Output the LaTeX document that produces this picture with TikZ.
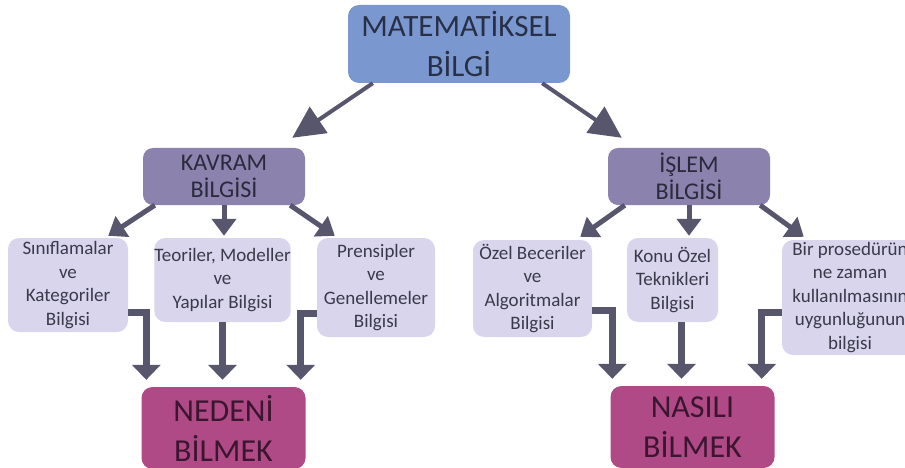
\documentclass[tikz,border=0pt]{standalone}
\usepackage{fontspec}
\setmainfont{Carlito}
\usetikzlibrary{arrows.meta,calc}
\definecolor{cTop}{HTML}{7B97D0}
\definecolor{cMid}{HTML}{8C82AE}
\definecolor{cLight}{HTML}{D8D5EC}
\definecolor{cMag}{HTML}{B04A86}
\definecolor{cArr}{HTML}{58566D}
\definecolor{cTxtTop}{HTML}{283048}
\definecolor{cTxtMid}{HTML}{2A2A3C}
\definecolor{cTxtLight}{HTML}{3A3A4A}
\definecolor{cTxtMag}{HTML}{3B1630}
\tikzset{
  topbox/.style={fill=cTop, rounded corners=11pt, minimum width=222pt, minimum height=78pt, align=center, text=cTxtTop, font=\fontsize{31}{39.5}\selectfont, inner sep=0pt},
  midbox/.style={fill=cMid, rounded corners=10pt, minimum width=162pt, minimum height=57pt, align=center, text=cTxtMid, font=\fontsize{24}{27.5}\selectfont, inner sep=0pt},
  lightbox/.style={fill=cLight, rounded corners=11pt, align=center, text=cTxtLight, font=\fontsize{19}{23.5}\selectfont, inner sep=0pt},
  magbox/.style={fill=cMag, rounded corners=11pt, minimum width=164pt, minimum height=82pt, align=center, text=cTxtMag, font=\fontsize{32}{40}\selectfont, inner sep=0pt},
  bigarr/.style={draw=cArr, line width=4pt, -{Triangle[width=31pt,length=32pt]}},
  smallarr/.style={draw=cArr, line width=5pt, -{Triangle[width=24pt,length=17pt]}},
  elbowarr/.style={draw=cArr, line width=7pt, -{Triangle[width=28pt,length=15pt]}},
}
\begin{document}
\begin{tikzpicture}[x=1pt,y=-1pt]
\useasboundingbox (0,0) rectangle (905,468);
% top
\node[topbox] (mat) at (459,44) {MATEMATİKSEL\\BİLGİ};
% middle
\node[midbox] (kav) at (224,176.5) {KAVRAM\\BİLGİSİ};
\node[midbox] (isl) at (689,176.5) {İŞLEM\\BİLGİSİ};
% left leaves
\node[lightbox, minimum width=120pt, minimum height=94pt] (sin) at (68,285) {Sınıflamalar\\ve\\Kategoriler\\Bilgisi};
\node[lightbox, minimum width=135pt, minimum height=84pt] (teo) at (222.5,280) {Teoriler, Modeller\\ve\\Yapılar Bilgisi};
\node[lightbox, minimum width=118pt, minimum height=99pt] (pre) at (376,287.5) {Prensipler\\ve\\Genellemeler\\Bilgisi};
% right leaves
\node[lightbox, minimum width=119pt, minimum height=97pt] (oze) at (532.5,288.5) {Özel Beceriler\\ve\\Algoritmalar\\Bilgisi};
\node[lightbox, minimum width=91pt, minimum height=84pt] (kon) at (672.5,280) {Konu Özel\\Teknikleri\\Bilgisi};
\node[lightbox, minimum width=136pt, minimum height=115pt] (bir) at (850,297.5) {Bir prosedürün\\ne zaman\\kullanılmasının\\uygunluğunun\\bilgisi};
% bottom
\node[magbox] (ned) at (223.5,428) {NEDENİ\\BİLMEK};
\node[magbox] (nas) at (692.5,427) {NASILI\\BİLMEK};
% main arrows
\draw[bigarr] ($(mat.south west)+(25,0)$) -- ($(kav.north east)+(-13,-10)$);
\draw[bigarr] ($(mat.south east)+(-28,0)$) -- ($(isl.north west)+(14,-10)$);
% kavram arrows
\draw[smallarr] ($(kav.south west)+(12,0)$) -- ($(sin.north east)+(-20,-2)$);
\draw[smallarr] (kav.south) -- ($(kav.south |- teo.north)+(0,-2)$);
\draw[smallarr] ($(kav.south east)+(-15,0)$) -- ($(pre.north west)+(18,-2)$);
% islem arrows
\draw[smallarr] ($(isl.south west)+(17,0)$) -- ($(oze.north east)+(-12,-3)$);
\draw[smallarr] (isl.south) -- ($(isl.south |- kon.north)+(0,-2)$);
\draw[smallarr] ($(isl.south east)+(-10,0)$) -- ($(bir.north west)+(22,-3)$);
% elbow arrows to NEDENI
\draw[elbowarr] ($(sin.south east)+(0,-20)$) -| ($(ned.north west)+(5,-7)$);
\draw[elbowarr] (teo.south) -- ($(teo.south |- ned.north)+(0,-7)$);
\draw[elbowarr] ($(pre.south west)+(0,-24)$) -| ($(ned.north east)+(-5,-7)$);
% elbow arrows to NASILI
\coordinate (k1) at ($(kon.south)+(9,0)$);
\draw[elbowarr] ($(oze.south east)+(0,-27)$) -| ($(nas.north west)+(2,-7)$);
\draw[elbowarr] (k1) -- ($(k1 |- nas.north)+(0,-7)$);
\draw[elbowarr] ($(bir.south west)+(0,-43)$) -| ($(nas.north east)+(-13,-7)$);
\end{tikzpicture}
\end{document}
